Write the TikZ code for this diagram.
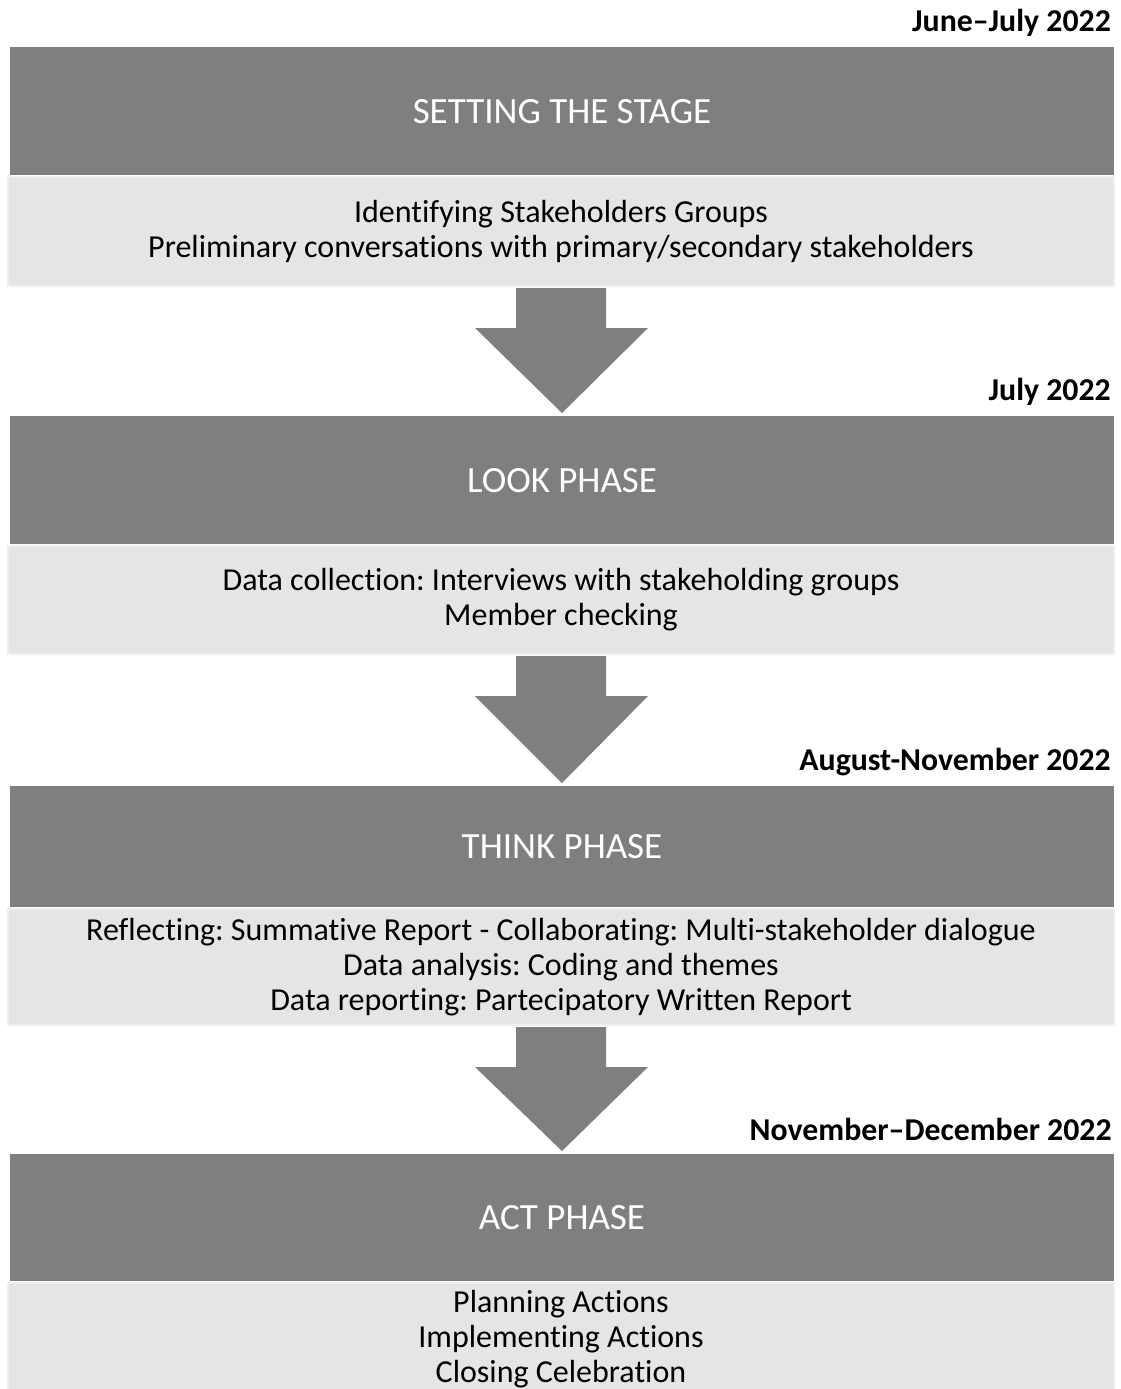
\documentclass[tikz,border=0pt]{standalone}
\usepackage{fontspec}
\setmainfont{Carlito}[Ligatures={NoCommon}]
\usetikzlibrary{calc}
\definecolor{phasegray}{HTML}{7F7F7F}
\definecolor{detailgray}{HTML}{E5E5E5}
\definecolor{edgegray}{HTML}{EFEFEF}
\frenchspacing
\begin{document}
\begin{tikzpicture}[x=1pt,y=-1pt,
  phasebox/.style={fill=phasegray, draw=none, inner sep=0pt,
    minimum width=1104pt, anchor=north, text=white,
    font=\fontsize{37}{42}\selectfont},
  detailbox/.style={fill=detailgray, draw=edgegray, line width=2pt, inner sep=0pt,
    minimum width=1106pt, anchor=north, align=center,
    font=\fontsize{32}{35}\selectfont},
  datelabel/.style={anchor=base east, inner sep=0pt,
    font=\bfseries\fontsize{31.8}{36}\selectfont},
  flow/.style={fill=phasegray, draw=none}
]
\useasboundingbox (0,0) rectangle (1120,1389);
\fill[white] (0,0) rectangle (1120,1389);

% date labels
\node[datelabel] (d1) at (1111,32) {June–July 2022};
\node[datelabel] (d2) at (1111,400) {July 2022};
\node[datelabel] (d3) at (1111,770) {August-November 2022};
\node[datelabel] (d4) at (1112,1140) {November–December 2022};

% phase 1
\node[phasebox, minimum height=128pt] (p1) at (562,47) {SETTING THE STAGE};
\node[detailbox, minimum height=109pt] (s1) at (561,176)
  {Identifying Stakeholders Groups\\Preliminary conversations with primary/secondary stakeholders};

% phase 2
\node[phasebox, minimum height=128pt] (p2) at (562,416) {LOOK PHASE};
\node[detailbox, minimum height=108pt] (s2) at (561,545)
  {Data collection: Interviews with stakeholding groups\\Member checking};

% phase 3
\node[phasebox, minimum height=121pt] (p3) at (562,786) {THINK PHASE};
\node[detailbox, minimum height=116pt] (s3) at (561,908)
  {Reflecting: Summative Report - Collaborating: Multi-stakeholder dialogue\\Data analysis: Coding and themes\\Data reporting: Partecipatory Written Report};

% phase 4
\node[phasebox, minimum height=127pt] (p4) at (562,1154) {ACT PHASE};
\node[detailbox, minimum height=112pt] (s4) at (561,1282)
  {Planning Actions\\Implementing Actions\\Closing Celebration};

% block arrows between the phases
\foreach \a/\b in {s1/p2, s2/p3, s3/p4}{
  \fill[flow] ($(\a.south)+(-45,1)$) -- ($(\a.south)+(45,1)$)
    -- ($(\a.south)+(45,41)$) -- ($(\a.south)+(87,41)$)
    -- ($(\b.north)+(0,-3)$)
    -- ($(\a.south)+(-86,41)$) -- ($(\a.south)+(-45,41)$) -- cycle;
}
\end{tikzpicture}
\end{document}
